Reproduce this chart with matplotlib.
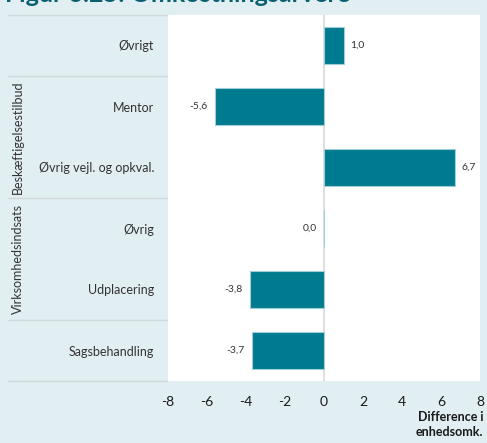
import matplotlib.pyplot as plt
from matplotlib.transforms import blended_transform_factory

# data (top to bottom)
categories = ["Øvrigt", "Mentor", "Øvrig vejl. og opkval.", "Øvrig", "Udplacering", "Sagsbehandling"]
values = [1.0, -5.6, 6.7, -0.02, -3.8, -3.7]
value_labels = ["1,0", "-5,6", "6,7", "0,0", "-3,8", "-3,7"]
groups = ["Beskæftigelsestilbud", "Virksomhedsindsats"]
group_centers = [1.5, 3.5]
separators = [-0.5, 0.5, 2.5, 4.5, 5.5]
xticks = [-8, -6, -4, -2, 0, 2, 4, 6, 8]

bg = "#e1eef2"
bar_color = "#007a8f"

plt.rcParams['font.family'] = ['Lato', 'DejaVu Sans']

fig = plt.figure(figsize=(4.87, 4.43), dpi=100, facecolor=bg)
ax = fig.add_axes([168 / 487, 62 / 443, 312 / 487, 366 / 443])
ax.set_facecolor("white")

ypos = list(range(len(categories)))
ax.barh(ypos, values, height=0.62, color=bar_color, edgecolor="#9fd0da", linewidth=0.8, zorder=3)
ax.axvline(0, color="#d9d9d9", linewidth=1.2, zorder=2)

for y, v, lab in zip(ypos, values, value_labels):
    if v >= 0:
        ax.annotate(lab, (v, y), xytext=(5, 0), textcoords="offset points",
                    ha="left", va="center", fontsize=7.5, color="#333333")
    else:
        ax.annotate(lab, (v, y), xytext=(-5, 0), textcoords="offset points",
                    ha="right", va="center", fontsize=7.5, color="#333333")

ax.set_xlim(-8, 8)
ax.set_ylim(5.5, -0.5)
ax.set_xticks(xticks)
ax.set_xticklabels([str(t) for t in xticks], fontsize=10, color="#1a1a1a")
ax.set_yticks(ypos)
ax.set_yticklabels(categories, fontsize=9, color="#333333")
ax.tick_params(axis="both", length=0)
ax.tick_params(axis="y", pad=10)
ax.tick_params(axis="x", pad=11)
for s in ax.spines.values():
    s.set_visible(False)

# group separators on the left
tr = blended_transform_factory(fig.transFigure, ax.transData)
for s in separators:
    ax.plot([8 / 487, 167 / 487], [s, s], transform=tr, color="#cfd9dc",
            linewidth=1, clip_on=False)
for g, c in zip(groups, group_centers):
    ax.text(18 / 487, c, g, transform=tr, rotation=90, ha="center", va="center",
            fontsize=9, color="#333333")

fig.text(483 / 487, 1 - 411 / 443, "Difference i\nenhedsomk.", ha="right", va="top",
         fontsize=9, fontweight="bold", color="#1a1a1a", linespacing=1.35)

# title, cut off at the top like in the source
fig.text(5 / 487, 1 - 2 / 443, "Figur 6.25: Omkostningsarvere", ha="left", va="baseline",
         fontsize=18, fontweight="bold", color="#0b5f73")

fig.savefig("out.png", dpi=100, facecolor=bg)
